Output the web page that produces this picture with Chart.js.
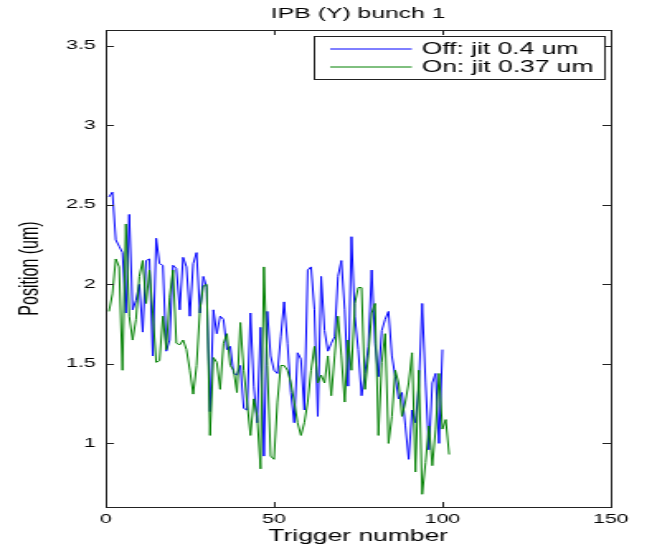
<!DOCTYPE html>
<html>
<head>
<meta charset="utf-8">
<script src="https://cdn.jsdelivr.net/npm/chart.js@4.4.1/dist/chart.umd.min.js"></script>
<style>
  html, body { margin: 0; padding: 0; background: #fff; }
  #plot { display: block; }
</style>
</head>
<body>
<!-- the reference is a horizontally stretched figure, so the canvas is drawn narrow and stretched -->
<canvas id="plot" width="395" height="545" style="width:652px;height:545px"></canvas>
<script>
// position per trigger, beam feedback off / on
const offValues = [
  2.55, 2.58, 2.28, 2.24, 2.20, 1.82, 2.44, 1.84, 1.90, 2.00,
  1.70, 2.15, 2.16, 1.55, 2.29, 2.13, 2.12, 1.58, 1.65, 2.12,
  2.10, 1.84, 2.17, 2.11, 1.80, 2.13, 2.20, 1.82, 2.05, 1.98,
  1.20, 1.84, 1.69, 1.80, 1.78, 1.59, 1.61, 1.44, 1.43, 1.49,
  1.22, 1.21, 1.82, 1.36, 1.13, 1.73, 0.92, 1.83, 1.55, 1.46,
  1.44, 1.67, 1.89, 1.63, 1.32, 1.13, 1.57, 1.53, 1.21, 2.09,
  2.11, 1.84, 1.17, 2.05, 1.71, 1.58, 1.63, 1.67, 2.05, 2.15,
  1.84, 1.36, 2.30, 1.80, 1.59, 1.30, 1.44, 1.61, 2.09, 1.63,
  1.42, 1.71, 1.78, 1.83, 1.55, 1.42, 1.28, 1.32, 1.11, 0.90,
  1.21, 1.13, 1.36, 1.88, 1.38, 0.96, 1.38, 1.44, 1.00, 1.59
];
const onValues = [
  1.83, 1.94, 2.16, 2.11, 1.46, 2.38, 1.80, 1.65, 1.78, 2.05,
  2.15, 1.88, 2.09, 1.82, 1.51, 1.52, 1.80, 1.59, 1.92, 2.09,
  1.63, 1.62, 1.65, 1.59, 1.46, 1.31, 1.49, 1.84, 1.99, 2.00,
  1.05, 1.54, 1.51, 1.34, 1.63, 1.69, 1.49, 1.46, 1.32, 1.76,
  1.46, 1.26, 1.05, 1.28, 1.17, 0.84, 2.11, 1.49, 0.92, 0.90,
  1.26, 1.49, 1.49, 1.46, 1.38, 1.26, 1.13, 1.05, 1.13, 1.26,
  1.46, 1.61, 1.38, 1.43, 1.38, 1.55, 1.30, 1.55, 1.80, 1.55,
  1.26, 1.65, 1.46, 1.88, 1.98, 1.98, 1.34, 1.55, 1.82, 1.88,
  1.05, 1.51, 1.69, 1.00, 1.17, 1.46, 1.38, 1.17, 1.26, 1.38,
  1.57, 0.82, 1.46, 0.68, 0.88, 1.11, 0.86, 1.09, 1.44, 1.09,
  1.15, 0.93
];
const seriesNames = ['Off: jit 0.4 um', 'On: jit 0.37 um'];
const xTicks = [0, 50, 100, 150];
const yTicks = [1, 1.5, 2, 2.5, 3, 3.5];

function toPoints(values) {
  return values.map((v, i) => ({ x: i + 1, y: v }));
}

Chart.defaults.font.family = "'Liberation Sans', Arial, sans-serif";
Chart.defaults.color = '#000';

// frame, inward ticks and the boxed legend (matlab style)
const matlabAxes = {
  id: 'matlabAxes',
  afterDatasetsDraw(chart) {
    const ctx = chart.ctx;
    const a = chart.chartArea;
    const xs = chart.scales.x, ys = chart.scales.y;
    const tl = 5;
    ctx.save();
    ctx.strokeStyle = '#222';
    ctx.lineWidth = 1;
    ctx.beginPath();
    xTicks.forEach(t => {
      const px = Math.round(xs.getPixelForValue(t)) + 0.5;
      ctx.moveTo(px, a.bottom); ctx.lineTo(px, a.bottom - tl);
      ctx.moveTo(px, a.top); ctx.lineTo(px, a.top + tl);
    });
    yTicks.forEach(t => {
      const py = Math.round(ys.getPixelForValue(t)) + 0.5;
      ctx.moveTo(a.left, py); ctx.lineTo(a.left + tl, py);
      ctx.moveTo(a.right, py); ctx.lineTo(a.right - tl, py);
    });
    ctx.stroke();
    ctx.strokeRect(Math.round(a.left) + 0.5, Math.round(a.top) + 0.5,
      Math.round(a.right - a.left), Math.round(a.bottom - a.top));
    ctx.restore();
  },
  afterDraw(chart) {
    const ctx = chart.ctx;
    const a = chart.chartArea;
    const sets = chart.data.datasets;
    ctx.save();
    ctx.font = "16px 'Liberation Sans', Arial, sans-serif";
    let w = 0;
    sets.forEach(d => { w = Math.max(w, ctx.measureText(d.label).width); });
    const boxW = 65 + w + 7;
    const boxH = 43;
    const left = Math.round(a.right - 4 - boxW) + 0.5;
    const top = Math.round(a.top + 6) + 0.5;
    ctx.fillStyle = '#fff';
    ctx.fillRect(left, top, boxW, boxH);
    ctx.strokeStyle = '#222';
    ctx.lineWidth = 1;
    ctx.strokeRect(left, top, Math.round(boxW), boxH);
    ctx.textBaseline = 'middle';
    ctx.textAlign = 'left';
    sets.forEach((d, i) => {
      const y = Math.round(top + 12.5 + i * 17.5);
      // sample line sits between pixel rows so it comes out pale, like the reference
      ctx.strokeStyle = d.borderColor;
      ctx.beginPath();
      ctx.moveTo(left + 9.5, y);
      ctx.lineTo(left + 59, y);
      ctx.stroke();
      ctx.fillStyle = '#000';
      ctx.fillText(d.label, left + 65, y + 1);
    });
    ctx.restore();
  }
};

new Chart(document.getElementById('plot'), {
  type: 'line',
  data: {
    datasets: [
      {
        label: seriesNames[0],
        data: toPoints(offValues),
        borderColor: '#0000ff',
        borderWidth: 1,
        pointRadius: 0,
        order: 1
      },
      {
        label: seriesNames[1],
        data: toPoints(onValues),
        borderColor: '#008000',
        borderWidth: 1,
        pointRadius: 0,
        order: 0
      }
    ]
  },
  options: {
    responsive: false,
    animation: false,
    devicePixelRatio: 1,
    layout: { padding: { left: 9, right: 25, top: 0, bottom: 0 } },
    plugins: {
      legend: { display: false },
      tooltip: { enabled: false },
      title: {
        display: true,
        text: 'IPB (Y) bunch 1',
        fullSize: false,
        font: { size: 15, weight: 'normal' },
        padding: { top: 5, bottom: 7 }
      }
    },
    scales: {
      x: {
        type: 'linear',
        min: 0,
        max: 150,
        grid: { display: false, drawTicks: false },
        border: { display: false },
        afterBuildTicks: s => { s.ticks = xTicks.map(v => ({ value: v })); },
        afterFit: s => { s.height = 38; },
        ticks: { font: { size: 13 }, padding: 5, maxRotation: 0, callback: v => String(v) },
        title: {
          display: true,
          text: 'Trigger number',
          font: { size: 16, lineHeight: 1 },
          padding: 0
        }
      },
      y: {
        type: 'linear',
        min: 0.6,
        max: 3.6,
        grid: { display: false, drawTicks: false },
        border: { display: false },
        afterBuildTicks: s => { s.ticks = yTicks.map(v => ({ value: v })); },
        afterFit: s => { s.width = 55; },
        ticks: { font: { size: 13 }, padding: 6, callback: v => String(v) },
        title: {
          display: true,
          text: 'Position (um)',
          font: { size: 16 },
          padding: 0
        }
      }
    }
  },
  plugins: [matlabAxes]
});
</script>
</body>
</html>
